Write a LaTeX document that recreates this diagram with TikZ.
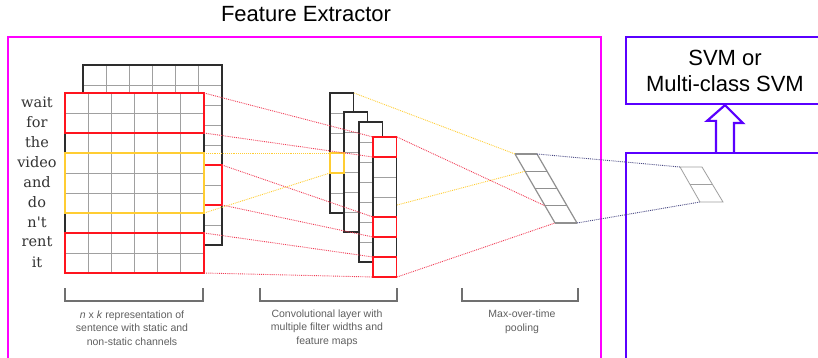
\documentclass[tikz,border=0pt]{standalone}
\usepackage{fontspec}
\setmainfont{Liberation Sans}
\newfontfamily\wordfont{DejaVu Serif}
\usetikzlibrary{positioning}

\definecolor{framepink}{RGB}{255,0,255}
\definecolor{svmblue}{RGB}{90,0,255}
\definecolor{filtred}{RGB}{255,20,30}
\definecolor{linered}{RGB}{240,60,85}
\definecolor{filtyellow}{RGB}{255,205,50}
\definecolor{linenavy}{RGB}{70,70,130}
\definecolor{gridedge}{RGB}{45,45,45}
\definecolor{gridline}{RGB}{160,160,160}
\definecolor{captiongray}{RGB}{95,95,95}

\begin{document}
\begin{tikzpicture}[x=1pt, y=-1pt,
	outer/.style={draw=gridedge, line width=1.3pt},
	inner/.style={draw=gridline, line width=0.9pt},
	redbox/.style={draw=filtred, line width=1.8pt},
	yellowbox/.style={draw=filtyellow, line width=1.8pt},
	redlink/.style={draw=linered, densely dotted, line width=0.9pt},
	yellowlink/.style={draw=filtyellow, densely dotted, line width=0.9pt},
	navylink/.style={draw=linenavy, densely dotted, line width=0.9pt},
	pool/.style={draw=gridline!90!black, line width=1.2pt},
	word/.style={font=\wordfont\fontsize{14.5}{16}\selectfont, text=black!80, inner sep=0pt},
	caption/.style={font=\fontsize{10.5}{13.5}\selectfont, text=captiongray, align=center, inner sep=0pt},
	brace/.style={draw=gridline!70!black, line width=1.1pt},
	framebox/.style={draw=framepink, line width=2.2pt},
	svmline/.style={draw=svmblue, line width=2.2pt},
	svmbox/.style={svmline, fill=white, align=center, inner sep=0pt,
		font=\fontsize{22}{26}\selectfont}]
	\clip (0,0) rectangle (818,358);
	
	% Frames {feature extractor, classifier}
	\draw [framebox] (8,370) -- (8,37) -- (601,37) -- (601,370);
	\node [font=\fontsize{22}{26}\selectfont, inner sep=0pt] (fe) at (306,14) {Feature Extractor};
	\node [svmbox, minimum width=198pt, minimum height=67pt] (svm) at (725,70.5) {SVM or\\Multi-class SVM};
	\node [svmbox, minimum width=198pt, minimum height=250pt] (clf) at (725,278) {};
	\draw [svmline, fill=white]
		([xshift=-9pt]clf.north) -- ++(0,-31) -- ++(-9,0) -- (svm.south)
		-- ++(18,18) -- ++(-9,0) -- ([xshift=9pt]clf.north);
	
	% Input matrices (static channel behind, non-static in front)
	\fill [white] (83,65) rectangle (222,245);
	\foreach \i in {1,...,5} \draw [inner] ({83+23.17*\i},65) -- ++(0,180);
	\foreach \j in {1,...,8} \draw [inner] (83,{65+20*\j}) -- ++(139,0);
	\draw [outer] (83,65) rectangle (222,245);
	\draw [redbox] (83,165) rectangle (222,205);
	
	\fill [white] (65,93) rectangle (204,273);
	\foreach \i in {1,...,5} \draw [inner] ({65+23.17*\i},93) -- ++(0,180);
	\foreach \j in {1,...,8} \draw [inner] (65,{93+20*\j}) -- ++(139,0);
	\draw [outer] (65,93) rectangle (204,273);
	\draw [redbox] (65,93) rectangle (204,133);
	\draw [yellowbox] (65,153) rectangle (204,213);
	\draw [redbox] (65,233) rectangle (204,273);
	
	% Words
	\foreach \w [count=\k] in {wait,for,the,video,and,do,{n\textquotesingle t},rent,it}
		\node [word] (w\k) at (37,{82+20*\k}) {\w};
	
	% Feature maps
	\foreach \x/\y/\n in {330/93/6, 344/112/6, 359/122/7, 373/137/7} {
		\fill [white] (\x,\y) rectangle ++(23.5,{20*\n});
		\foreach \j in {1,...,\n} \draw [inner] (\x,{\y+20*\j}) -- ++(23.5,0);
		\draw [outer] (\x,\y) rectangle ++(23.5,{20*\n});
	}
	\draw [yellowbox] (330,153) rectangle (344,173);
	\draw [redbox] (373,137) rectangle (396.5,157);
	\draw [redbox] (373,217) rectangle (396.5,237);
	\draw [redbox] (373,257) rectangle (396.5,277);
	
	% Pooling vectors
	\foreach \t in {0,0.25,0.5,0.75,1}
		\draw [pool] ({515+40*\t},{154+69*\t}) -- ++(22,0);
	\draw [pool] (515,154) -- (555,223);
	\draw [pool] (537,154) -- (577,223);
	\draw [gridline, line width=0.8pt] (680,167) -- (702,167) -- (723,202) -- (700,202) -- cycle;
	\draw [gridline, line width=0.8pt] (690,184.5) -- (712.5,184.5);
	
	% Named ends of the links
	\coordinate (r1t) at (204,93);   \coordinate (r1b) at (204,133);
	\coordinate (r2t) at (222,165);  \coordinate (r2b) at (222,205);
	\coordinate (r3t) at (204,233);  \coordinate (r3b) at (204,273);
	\coordinate (y1t) at (204,153);  \coordinate (y1b) at (204,213);
	\coordinate (c1t) at (373,137);  \coordinate (c1b) at (373,157);
	\coordinate (c5t) at (373,217);  \coordinate (c5b) at (373,237);
	\coordinate (c7t) at (373,257);  \coordinate (c7b) at (373,277);
	\coordinate (m1t) at (330,153);  \coordinate (m1b) at (330,173);
	\coordinate (m1ne) at (354,93);  \coordinate (m4y) at (397,205);
	\coordinate (m4ne) at (397,137); \coordinate (m4se) at (397,277);
	\coordinate (p1) at (515,154);   \coordinate (p2) at (525,171.3);
	\coordinate (p4) at (545,205.8); \coordinate (p5) at (555,223);
	\coordinate (pne) at (537,154);  \coordinate (pse) at (577,223);
	\coordinate (s1) at (680,167);   \coordinate (s3) at (700,202);
	
	% Paths
	\path [redlink] (r1t) edge (c1t) (r1b) edge (c1b);
	\path [redlink] (r2t) edge (c5t) (r2b) edge (c5b);
	\path [redlink] (r3t) edge (c7t) (r3b) edge (c7b);
	\path [yellowlink] (y1t) edge (m1t) (y1b) edge (m1b);
	\path [yellowlink] (m1ne) edge (p1) (m4y) edge (p2);
	\path [redlink] (m4ne) edge (p4) (m4se) edge (p5);
	\path [navylink] (pne) edge (s1) (pse) edge (s3);
	
	% Brackets and captions
	\draw [brace] (65,288) -- (65,301) -- (203,301) -- (203,288);
	\draw [brace] (260,288) -- (260,301) -- (397,301) -- (397,288);
	\draw [brace] (462,288) -- (462,301) -- (578,301) -- (578,288);
	\node [caption] (cap1) at (132,328) {\textit{n} x \textit{k} representation of\\sentence with static and\\non-static channels};
	\node [caption] (cap2) at (327,328) {Convolutional layer with\\multiple filter widths and\\feature maps};
	\node [caption] (cap3) at (522,322) {Max-over-time\\pooling};
\end{tikzpicture}
\end{document}
